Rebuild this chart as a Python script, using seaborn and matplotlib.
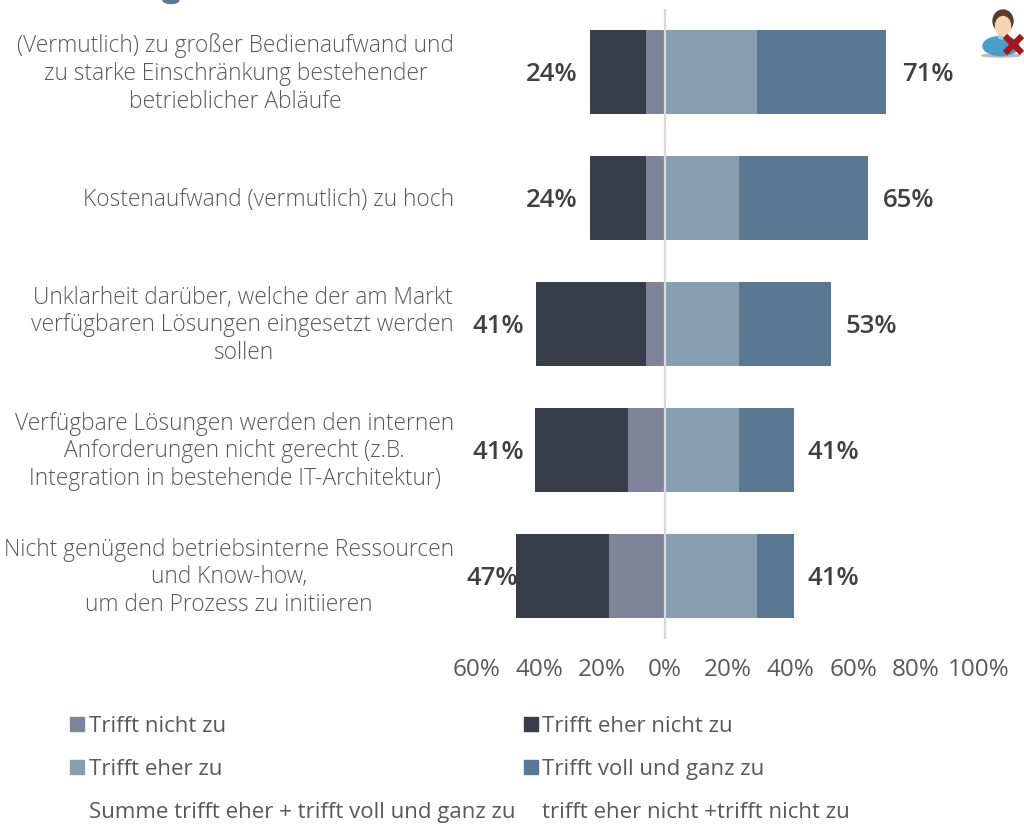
import matplotlib
matplotlib.use("Agg")
import matplotlib.pyplot as plt
from matplotlib.patches import Patch, Ellipse
from matplotlib.lines import Line2D
from matplotlib.transforms import ScaledTranslation
import pandas as pd
import seaborn as sns

categories = [
    "(Vermutlich) zu großer Bedienaufwand und\nzu starke Einschränkung bestehender\nbetrieblicher Abläufe",
    "Kostenaufwand (vermutlich) zu hoch",
    "Unklarheit darüber, welche der am Markt\nverfügbaren Lösungen eingesetzt werden\nsollen",
    "Verfügbare Lösungen werden den internen\nAnforderungen nicht gerecht (z.B.\nIntegration in bestehende IT-Architektur)",
    "Nicht genügend betriebsinterne Ressourcen\nund Know-how,\num den Prozess zu initiieren",
]
trifft_nicht = [6, 6, 6, 11.8, 17.8]
trifft_eher_nicht = [17.7, 17.7, 35, 29.5, 29.5]
trifft_eher = [29.3, 23.7, 23.7, 23.7, 29.3]
trifft_voll = [41.1, 41, 29.3, 17.3, 11.7]
sum_neg = [24, 24, 41, 41, 47]
sum_pos = [71, 65, 53, 41, 41]
x_ticks = [-60, -40, -20, 0, 20, 40, 60, 80, 100]
x_tick_labels = ["60%", "40%", "20%", "0%", "20%", "40%", "60%", "80%", "100%"]
legend_labels = ["Trifft nicht zu", "Trifft eher nicht zu", "Trifft eher zu", "Trifft voll und ganz zu",
                 "Summe trifft eher + trifft voll und ganz zu", "trifft eher nicht +trifft nicht zu"]

C_NICHT, C_EHER_NICHT, C_EHER, C_VOLL = "#80849A", "#393D4A", "#879DB0", "#5B7893"
TXT = "#595959"
W, H = 1024, 825

sns.set_theme(style="white")
plt.rcParams["font.family"] = ["Open Sans", "DejaVu Sans"]

fig = plt.figure(figsize=(W / 100, H / 100), dpi=100, facecolor="white")
x0, x1 = 476.3, 978.8
ytop, ybot = 9.0, 639.0
ax = fig.add_axes([x0 / W, 1 - ybot / H, (x1 - x0) / W, (ybot - ytop) / H])
ax.patch.set_alpha(0)

df = pd.DataFrame({
    "cat": categories,
    "nicht": trifft_nicht,
    "eher_nicht": trifft_eher_nicht,
    "eher": trifft_eher,
    "voll": trifft_voll,
})
df["neg_outer"] = -(df["nicht"] + df["eher_nicht"])
df["neg_inner"] = -df["nicht"]
df["pos_outer"] = df["eher"] + df["voll"]
df["pos_inner"] = df["eher"]

for col, color in [("neg_outer", C_EHER_NICHT), ("neg_inner", C_NICHT),
                   ("pos_outer", C_VOLL), ("pos_inner", C_EHER)]:
    sns.barplot(data=df, y="cat", x=col, color=color, width=0.667, saturation=1,
                orient="y", ax=ax, linewidth=0, dodge=False)

ax.set_xlim(-60, 100)
ax.set_ylim(4.5, -0.5)
ax.set_xlabel("")
ax.set_ylabel("")
sns.despine(ax=ax, left=True, bottom=True, top=True, right=True)
ax.axvline(0, color="#D9D9D9", lw=1.6, zorder=5)

ax.set_xticks(x_ticks)
ax.set_xticklabels(x_tick_labels, fontsize=17.5, color=TXT)
ax.tick_params(axis="x", length=0, pad=13.5)
ax.set_yticks(range(len(categories)))
ax.set_yticklabels(categories, fontsize=16.4, color=TXT, ma="center", linespacing=1.22)
ax.tick_params(axis="y", length=0, pad=16)
for t in ax.get_yticklabels():
    t.set_fontweight(300)
    up = 3.5 if "\n" in t.get_text() else 1
    t.set_transform(t.get_transform() + ScaledTranslation(0, up / 100, fig.dpi_scale_trans))

for i, (n, p) in enumerate(zip(sum_neg, sum_pos)):
    gap = 25 if n == 47 else 38
    ax.annotate(f"{n}%", (-n, i), xytext=(-gap * 0.72, -1.8), textcoords="offset points",
                ha="center", va="center", fontsize=18.5, color="#404040", fontweight=600)
    ax.annotate(f"{p}%", (p, i), xytext=(40 * 0.72, -1.8), textcoords="offset points",
                ha="center", va="center", fontsize=18.5, color="#404040", fontweight=600)

handles = [Patch(color=C_NICHT), Patch(color=C_EHER), Line2D([], [], alpha=0),
           Patch(color=C_EHER_NICHT), Patch(color=C_VOLL), Line2D([], [], alpha=0)]
labels = [legend_labels[0], legend_labels[2], legend_labels[4],
          legend_labels[1], legend_labels[3], legend_labels[5]]
fig.legend(handles, labels, ncols=2, loc="upper left",
           bbox_to_anchor=(70 / W, 1 - 716 / H), borderaxespad=0, borderpad=0, frameon=False,
           handlelength=0.62, handleheight=0.62, handletextpad=0.22, columnspacing=0.39,
           labelspacing=0.98, prop={"size": 16}, labelcolor=TXT)

# small user icon at the upper right
icon = fig.add_axes([978 / W, 1 - 60 / H, 46 / W, 52 / H])
icon.set_xlim(978, 1024)
icon.set_ylim(60, 8)
icon.axis("off")
icon.add_patch(Ellipse((1001, 55.5), 38, 3, color="#B9BBBE"))
icon.add_patch(Ellipse((1001, 46), 36, 19, color="#4A9CCB"))
icon.add_patch(Ellipse((1003, 36.5), 10, 5, color="#9CD0E8"))
icon.add_patch(Ellipse((1003, 21), 20, 22, color="#5A3C2C"))
icon.add_patch(Ellipse((1003, 26), 15, 19, color="#F6D5B4"))
icon.plot([1005, 1022], [36, 53], color="#A5171B", lw=4.5, solid_capstyle="butt")
icon.plot([1022, 1005], [36, 53], color="#A5171B", lw=4.5, solid_capstyle="butt")

# remnant of the cropped heading at the top edge
fig.add_artist(Ellipse((171 / W, 1 - 0 / H), 16 / W, 7 / H, color=C_VOLL, transform=fig.transFigure))

fig.savefig("out.png", dpi=100, facecolor="white")
